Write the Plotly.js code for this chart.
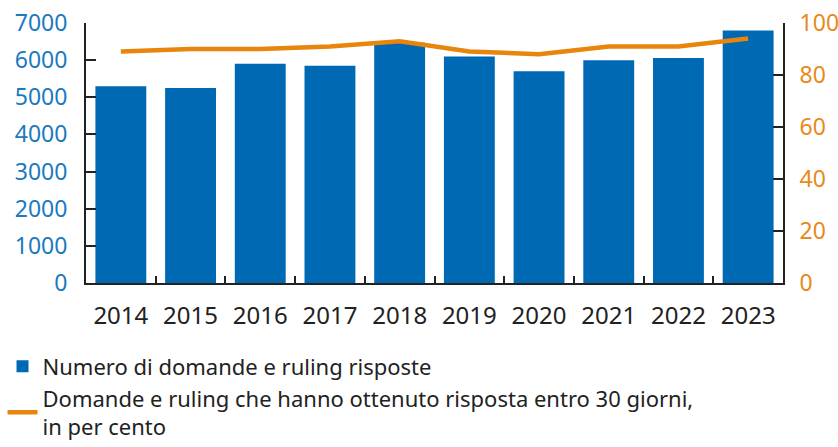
<!DOCTYPE html>
<html>
<head>
<meta charset="utf-8">
<script src="https://cdn.plot.ly/plotly-3.0.1.min.js"></script>
<style>html,body{margin:0;padding:0;background:#fff;}#chart{width:838px;height:447px;}</style>
</head>
<body>
<div id="chart"></div>
<script>
var years = ['2014','2015','2016','2017','2018','2019','2020','2021','2022','2023'];
var answered = [5300, 5250, 5900, 5850, 6470, 6100, 5700, 6000, 6060, 6800];
var within30 = [89, 90, 90, 91, 93, 89, 88, 91, 91, 94];
var barName = 'Numero di domande e ruling risposte';
var lineName = 'Domande e ruling che hanno ottenuto risposta entro 30 giorni,<br>in per cento';
var leftTicks = [0, 1000, 2000, 3000, 4000, 5000, 6000, 7000];
var rightTicks = [0, 20, 40, 60, 80, 100];

var FONT = '"Noto Sans", "Open Sans", sans-serif';
var data = [
  {type: 'bar', x: years, y: answered, name: barName, marker: {color: '#0069b4'}, yaxis: 'y'},
  {type: 'scatter', mode: 'lines', x: years, y: within30, name: lineName, yaxis: 'y2',
   line: {color: '#e8850c', width: 4.5}}
];
var layout = {
  width: 838, height: 447,
  margin: {l: 86, r: 55, t: 23, b: 164, autoexpand: false},
  paper_bgcolor: '#fff', plot_bgcolor: '#fff',
  font: {family: FONT, color: '#222'},
  bargap: 0.27,
  showlegend: true,
  legend: {xref: 'container', yref: 'container', x: 0.003, xanchor: 'left', y: 0.227, yanchor: 'top',
           orientation: 'v',
           font: {size: 22, color: '#222', family: FONT}, itemwidth: 30, tracegroupgap: 8,
           bgcolor: 'rgba(0,0,0,0)'},
  xaxis: {type: 'category', range: [-0.5, 9.5], showgrid: false, showline: true, automargin: false,
          linecolor: '#222', linewidth: 2, ticks: 'inside', ticklen: 7, tickcolor: '#222',
          tickwidth: 2, tickson: 'boundaries', tickfont: {size: 24, color: '#222', family: FONT},
          ticklabelstandoff: 10},
  yaxis: {range: [0, 7000], tickvals: leftTicks, showgrid: false, zeroline: false, automargin: false,
          showline: true, linecolor: '#222', linewidth: 2, ticks: 'inside', ticklen: 10,
          tickcolor: '#222', tickwidth: 2, tickfont: {size: 23, color: '#1a7abf', family: FONT},
          ticklabelstandoff: 12},
  yaxis2: {range: [0, 100], tickvals: rightTicks, overlaying: 'y', side: 'right', automargin: false,
           showgrid: false, zeroline: false, showline: true, linecolor: '#222', linewidth: 2,
           ticks: 'inside', ticklen: 10, tickcolor: '#222', tickwidth: 2,
           tickfont: {size: 23, color: '#e8891a', family: FONT}, ticklabelstandoff: 10}
};
Plotly.newPlot('chart', data, layout, {displayModeBar: false, staticPlot: true});
</script>
</body>
</html>
